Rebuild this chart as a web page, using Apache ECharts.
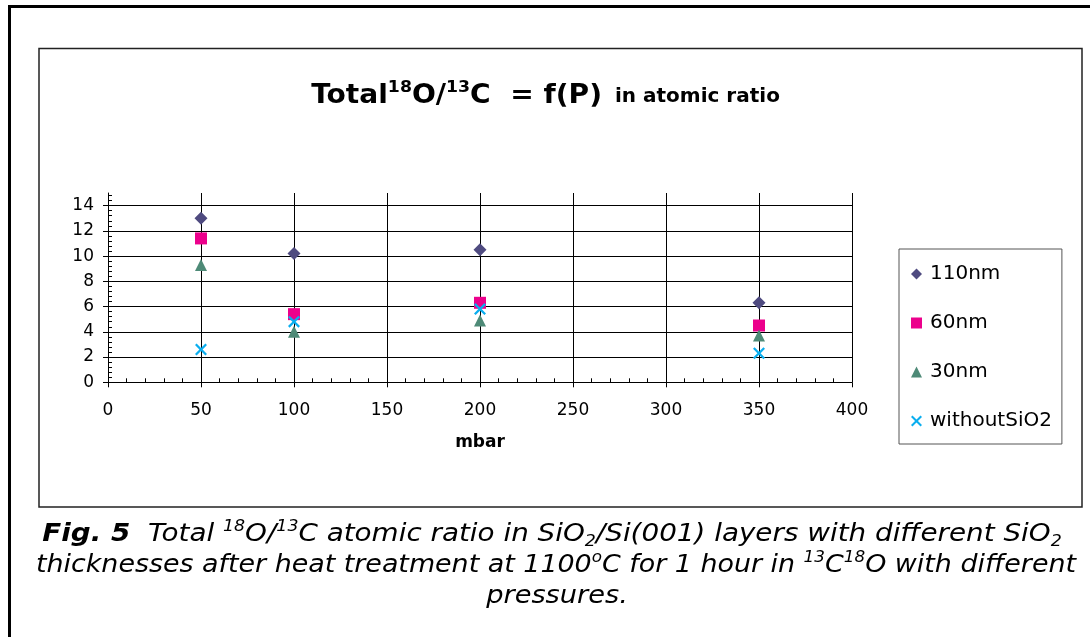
<!DOCTYPE html>
<html>
<head>
<meta charset="utf-8">
<script src="https://cdn.jsdelivr.net/npm/echarts@6/dist/echarts.min.js"></script>
<style>
  html, body { margin: 0; padding: 0; background: #ffffff; }
  #chart { width: 1090px; height: 637px; }
</style>
</head>
<body>
<div id="chart"></div>
<script>
// Pressure (mbar) at which each sample set was annealed
const pressures = [50, 100, 200, 350];

// Total 18O/13C atomic ratio per SiO2 thickness
const ratio110nm = [13.0, 10.2, 10.5, 6.3];
const ratio60nm = [11.4, 5.4, 6.3, 4.5];
const ratio30nm = [9.3, 4.0, 4.9, 3.7];
const ratioWithoutSiO2 = [2.6, 4.8, 5.8, 2.3];

const seriesNames = ['110nm', '60nm', '30nm', 'withoutSiO2'];
const yTickValues = [0, 2, 4, 6, 8, 10, 12, 14];

const FONT = 'DejaVu Sans';
const crossPath = 'path://M0,1.6L1.6,0L6,4.4L10.4,0L12,1.6L7.6,6L12,10.4L10.4,12L6,7.6L1.6,12L0,10.4L4.4,6Z';

function pairs(values) {
  return pressures.map((p, i) => [p, values[i]]);
}

const chart = echarts.init(document.getElementById('chart'), null, { renderer: 'canvas' });

const captionRich = {
  b: { fontFamily: FONT, fontSize: 24, fontStyle: 'italic', fontWeight: 'bold', lineHeight: 30, fill: '#000' },
  n: { fontFamily: FONT, fontSize: 24, fontStyle: 'italic', lineHeight: 30, fill: '#000' },
  sup: { fontFamily: FONT, fontSize: 15, fontStyle: 'italic', lineHeight: 15, verticalAlign: 'top', fill: '#000' },
  sub: { fontFamily: FONT, fontSize: 15, fontStyle: 'italic', lineHeight: 15, verticalAlign: 'bottom', fill: '#000' }
};

const option = {
  backgroundColor: '#ffffff',
  animation: false,
  graphic: [
    // outer page frame
    { type: 'rect', z: 0, shape: { x: 9.5, y: 6.5, width: 1200, height: 800 },
      style: { fill: 'transparent', stroke: '#000', lineWidth: 3 } },
    // chart area frame
    { type: 'rect', z: 0, shape: { x: 39, y: 48.5, width: 1043, height: 458.5 },
      style: { fill: 'transparent', stroke: '#222', lineWidth: 1.5 } },
    // chart title: formula part
    { type: 'text', z: 10, x: 602, y: 96, scaleX: 1.08,
      style: {
        text: '{m|Total}{s|18}{m|O/}{s|13}{m|C  = f(P)}',
        align: 'right', verticalAlign: 'middle',
        rich: {
          m: { fontFamily: FONT, fontSize: 26, fontWeight: 'bold', lineHeight: 32, fill: '#000' },
          s: { fontFamily: FONT, fontSize: 16, fontWeight: 'bold', lineHeight: 16, verticalAlign: 'top', fill: '#000' }
        }
      } },
    // chart title: unit part
    { type: 'text', z: 10, x: 615, y: 97,
      style: { text: 'in atomic ratio', align: 'left', verticalAlign: 'middle',
        fontFamily: FONT, fontSize: 20, fontWeight: 'bold', fill: '#000' } },
    // x axis name
    { type: 'text', z: 10, x: 480, y: 443,
      style: { text: 'mbar', align: 'center', verticalAlign: 'middle',
        fontFamily: FONT, fontSize: 17, fontWeight: 'bold', fill: '#000' } },
    // figure caption
    { type: 'text', z: 10, x: 552, y: 535, scaleX: 1.158,
      style: { align: 'center', verticalAlign: 'middle', rich: captionRich,
        text: '{b|Fig. 5}{n|  Total }{sup|18}{n|O/}{sup|13}{n|C atomic ratio in SiO}{sub|2}{n|/Si(001) layers with different SiO}{sub|2}' } },
    { type: 'text', z: 10, x: 556, y: 566, scaleX: 1.12,
      style: { align: 'center', verticalAlign: 'middle', rich: captionRich,
        text: '{n|thicknesses after heat treatment at 1100}{sup|o}{n|C for 1 hour in }{sup|13}{n|C}{sup|18}{n|O with different}' } },
    { type: 'text', z: 10, x: 557, y: 597, scaleX: 1.135,
      style: { align: 'center', verticalAlign: 'middle', rich: captionRich,
        text: '{n|pressures.}' } }
  ],
  grid: { left: 108, right: 238, top: 193, bottom: 254.7, containLabel: false },
  legend: {
    orient: 'vertical',
    left: 899,
    top: 249,
    data: seriesNames,
    itemWidth: 11,
    itemHeight: 11,
    itemGap: 29,
    padding: [15, 10, 13, 12],
    borderColor: '#555',
    borderWidth: 1,
    textStyle: { fontFamily: FONT, fontSize: 20, color: '#000', lineHeight: 20, padding: [0, 0, 0, 3] }
  },
  xAxis: {
    type: 'value',
    min: 0, max: 400, interval: 50,
    axisLine: { show: true, onZero: false, lineStyle: { color: '#000', width: 1 } },
    axisTick: { show: true, length: 5, lineStyle: { color: '#000' } },
    minorTick: { show: true, splitNumber: 5, length: -4, lineStyle: { color: '#000' } },
    axisLabel: { fontFamily: FONT, fontSize: 17, color: '#000', margin: 20 },
    splitLine: { show: true, lineStyle: { color: '#000', width: 1 } }
  },
  yAxis: {
    type: 'value',
    min: 0, max: 15, interval: 2,
    axisLine: { show: true, onZero: false, lineStyle: { color: '#000', width: 1 } },
    axisTick: { show: true, length: 5, customValues: yTickValues, lineStyle: { color: '#000' } },
    minorTick: { show: true, splitNumber: 5, length: -4, lineStyle: { color: '#000' } },
    axisLabel: { fontFamily: FONT, fontSize: 17, color: '#000', margin: 14, customValues: yTickValues },
    splitLine: { show: true, customValues: yTickValues, lineStyle: { color: '#000', width: 1 } }
  },
  series: [
    { name: seriesNames[0], type: 'scatter', data: pairs(ratio110nm),
      symbol: 'diamond', symbolSize: 13, itemStyle: { color: '#4f4b80', opacity: 1 }, z: 5 },
    { name: seriesNames[1], type: 'scatter', data: pairs(ratio60nm),
      symbol: 'rect', symbolSize: 12, itemStyle: { color: '#ec008c', opacity: 1 }, z: 5 },
    { name: seriesNames[2], type: 'scatter', data: pairs(ratio30nm),
      symbol: 'triangle', symbolSize: 12, itemStyle: { color: '#4e8a77', opacity: 1 }, z: 5 },
    { name: seriesNames[3], type: 'scatter', data: pairs(ratioWithoutSiO2),
      symbol: crossPath, symbolSize: 12, itemStyle: { color: '#0aaeef', opacity: 1 }, z: 5 }
  ]
};

chart.setOption(option);
</script>
</body>
</html>
